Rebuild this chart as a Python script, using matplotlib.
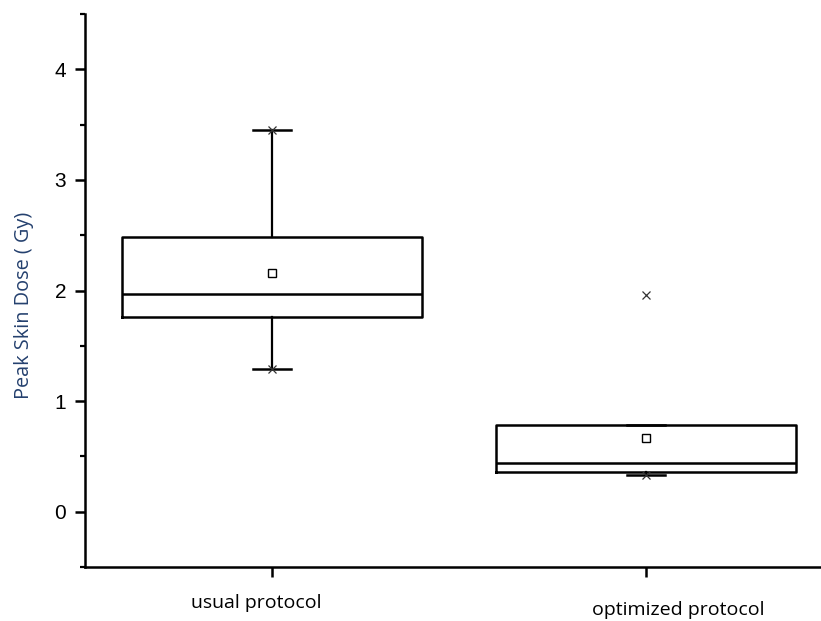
import matplotlib
matplotlib.use("Agg")
import matplotlib.pyplot as plt
from matplotlib.transforms import ScaledTranslation

# Peak skin dose summary per protocol (Gy)
protocols = ['usual protocol', 'optimized protocol']
dose_min = [1.29, 0.335]
dose_q1 = [1.76, 0.36]
dose_med = [1.97, 0.44]
dose_q3 = [2.48, 0.785]
dose_max = [3.45, 1.96]
dose_mean = [2.155, 0.67]
whisker_hi = [3.45, 0.785]

stats = []
for i in range(len(protocols)):
    stats.append({
        'label': protocols[i],
        'whislo': dose_min[i],
        'q1': dose_q1[i],
        'med': dose_med[i],
        'q3': dose_q3[i],
        'whishi': whisker_hi[i],
        'mean': dose_mean[i],
        'fliers': [],
    })

fig = plt.figure(figsize=(8.21, 6.21), dpi=100)
ax = fig.add_axes([85 / 821, 54 / 621, 748 / 821, 553 / 621])

pos = [1, 2]
lw = 1.8
ax.bxp(stats, positions=pos, widths=0.8, capwidths=0.104, showmeans=False,
       boxprops=dict(color='black', linewidth=lw),
       medianprops=dict(color='black', linewidth=lw),
       whiskerprops=dict(color='black', linewidth=1.6),
       capprops=dict(color='black', linewidth=lw))

# mean squares
ax.plot(pos, dose_mean, ls='none', marker='s', ms=5.5, mfc='white',
        mec='black', mew=1.0, zorder=5)
# min / max crosses
ax.plot(pos, dose_max, ls='none', marker='x', ms=6, color='#333333', mew=0.9, zorder=5)
ax.plot(pos, dose_min, ls='none', marker='x', ms=6, color='#333333', mew=0.9, zorder=5)

ax.set_xlim(0.5, 2.5)
ax.set_ylim(-0.5, 4.5)
ax.set_yticks([0, 1, 2, 3, 4])
ax.set_yticks([-0.5, 0.5, 1.5, 2.5, 3.5, 4.5], minor=True)
ax.set_xticks(pos)
ax.set_xticklabels(protocols, fontsize=14, family='Open Sans')

for s in ['top', 'right']:
    ax.spines[s].set_visible(False)
for s in ['left', 'bottom']:
    ax.spines[s].set_linewidth(1.8)

ax.tick_params(axis='y', which='major', direction='out', length=7.5, width=1.8,
               labelsize=15, pad=6)
ax.tick_params(axis='y', which='minor', direction='out', length=3.6, width=1.6)
ax.tick_params(axis='x', which='major', direction='out', length=7.5, width=1.8, pad=12)
for lab in ax.get_yticklabels():
    lab.set_family('Liberation Sans')

# shift category labels the way they sit under the axis
shifts = [(-0.16, 0.0), (0.32, -0.07)]
for lab, (dx, dy) in zip(ax.get_xticklabels(), shifts):
    lab.set_transform(lab.get_transform() + ScaledTranslation(dx, dy, fig.dpi_scale_trans))

ax.set_ylabel('Peak Skin Dose ( Gy)', fontsize=14.3, family='Open Sans',
              color='#24406e')
ax.yaxis.set_label_coords(-0.068, 0.474)

fig.savefig('out.png', dpi=100)
